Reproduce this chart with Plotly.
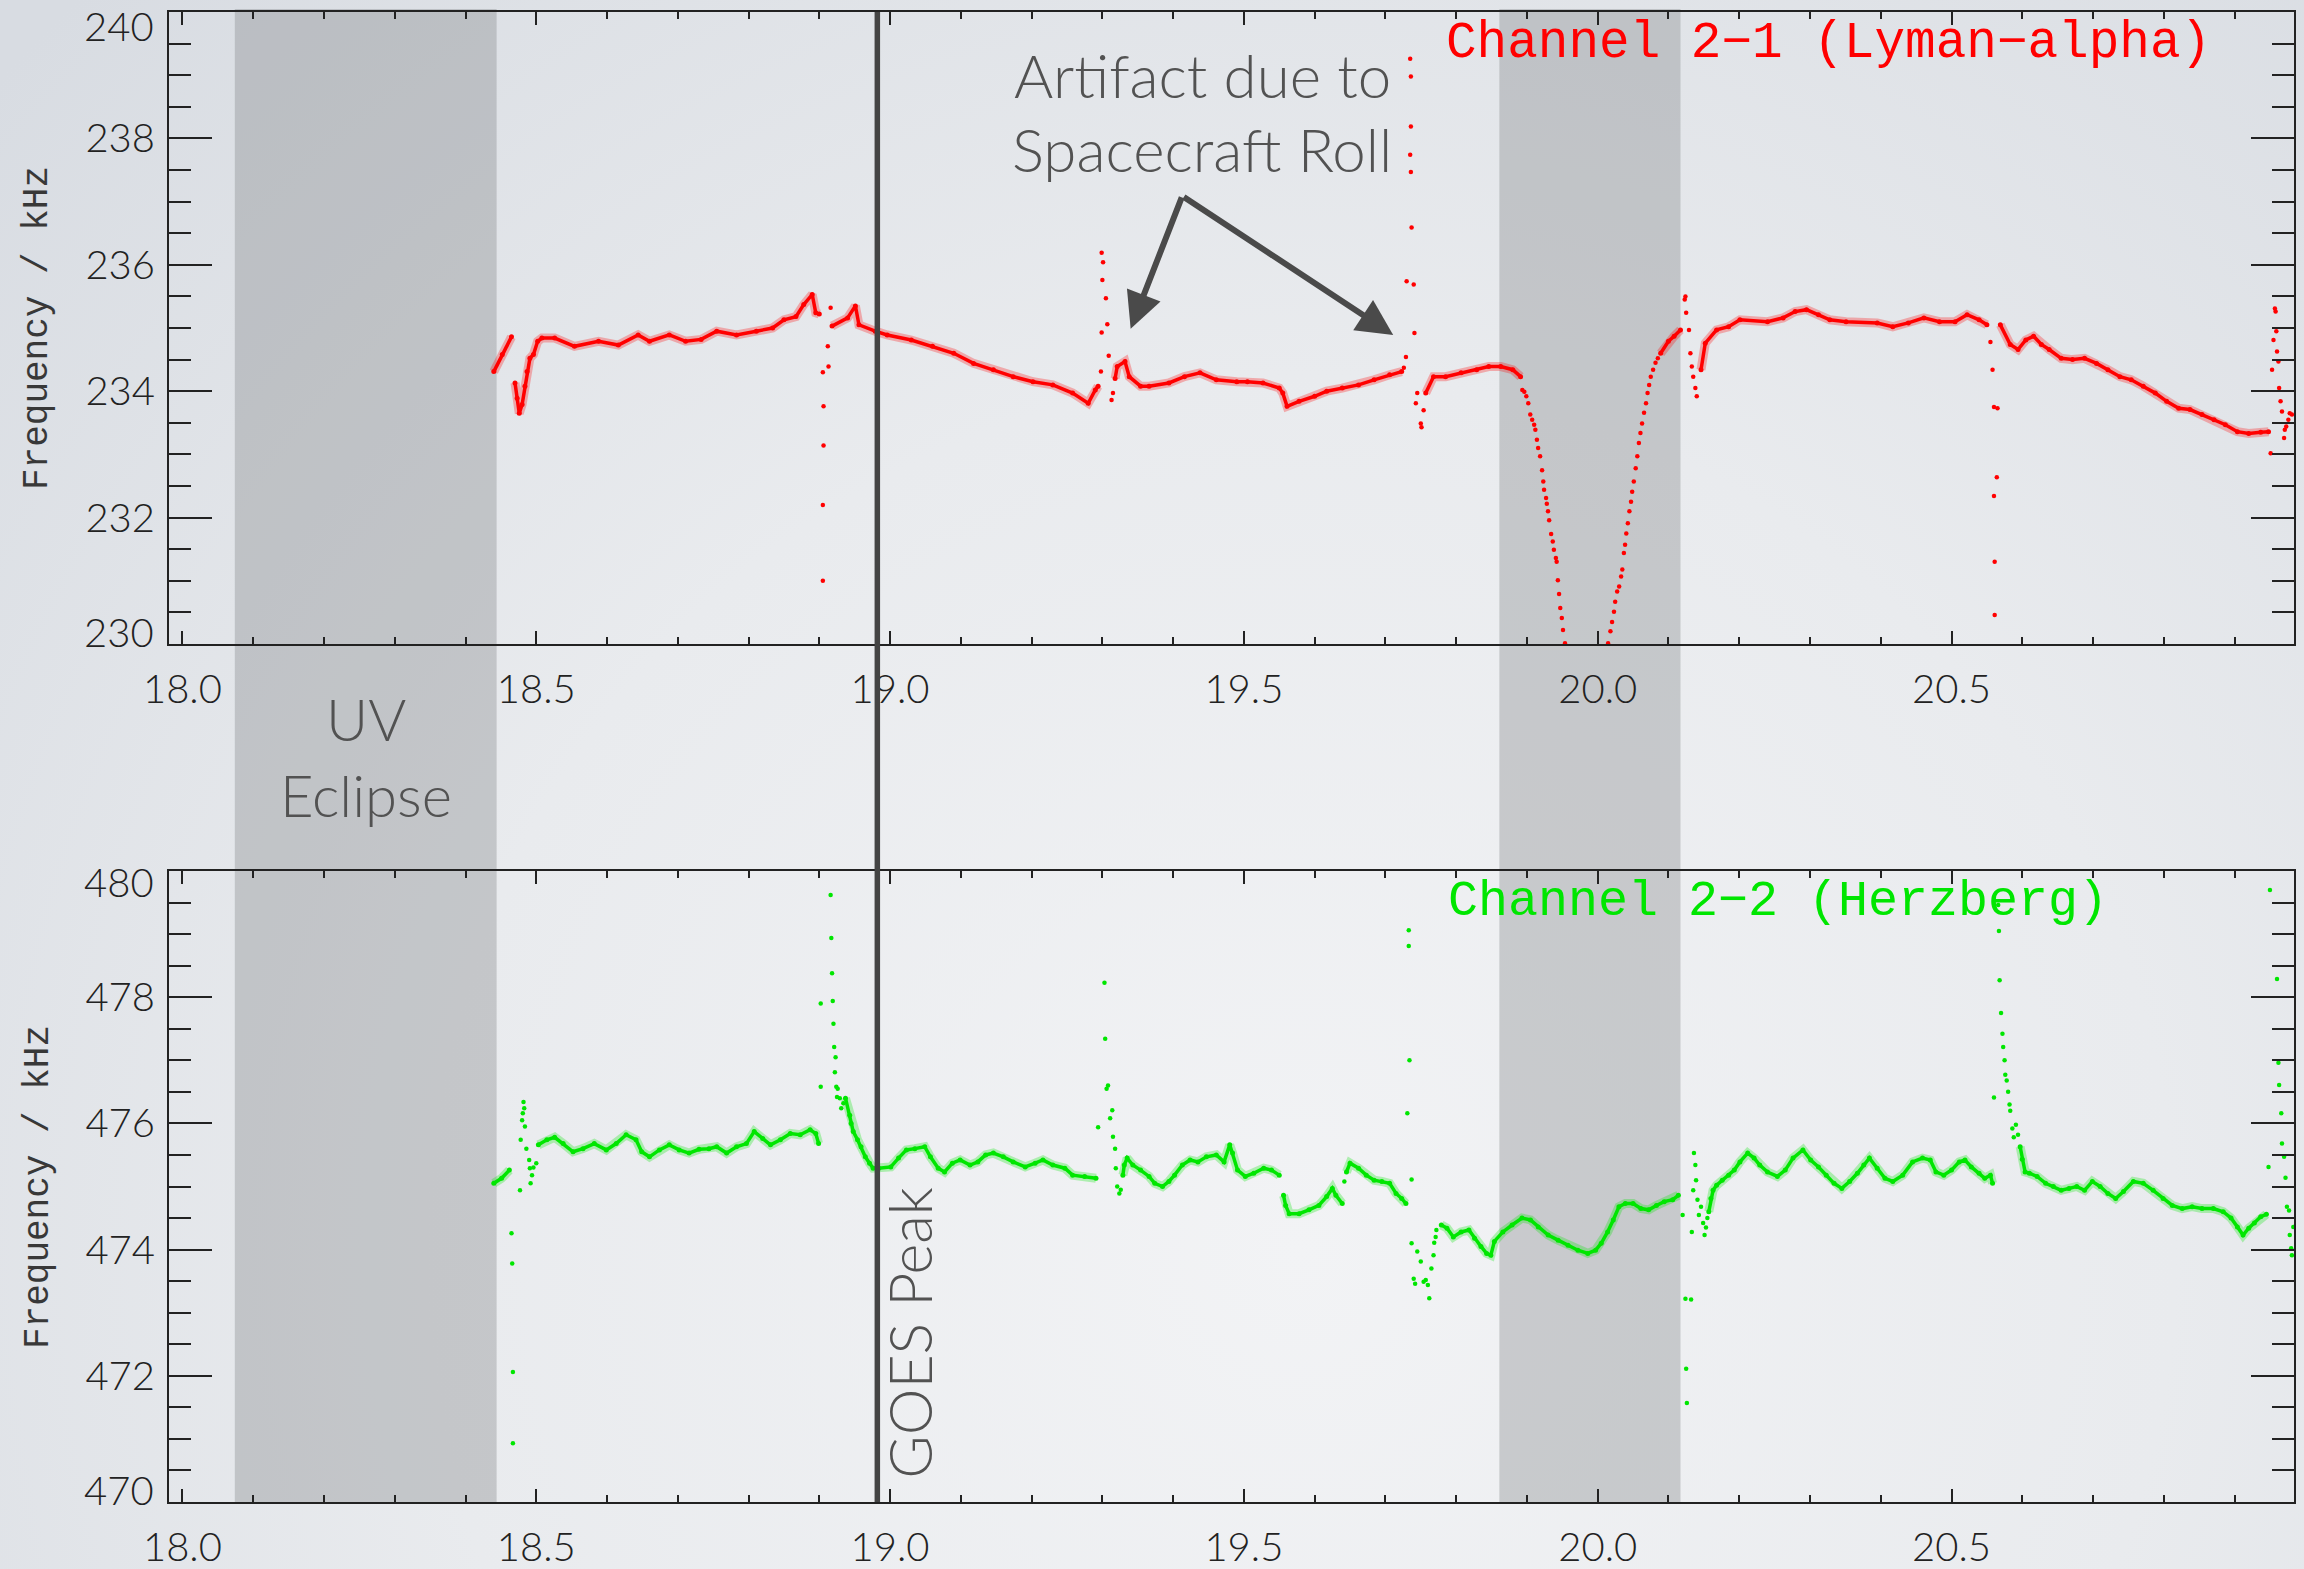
import base64
import plotly.graph_objects as go

# ---------------- axes ----------------
X_RANGE = [17.981, 20.984]          # UT hours
X_TICKS = [18.0, 18.5, 19.0, 19.5, 20.0, 20.5]
LYA_Y_RANGE = [230, 240]
LYA_Y_TICKS = [230, 232, 234, 236, 238, 240]
HZB_Y_RANGE = [470, 480]
HZB_Y_TICKS = [470, 472, 474, 476, 478, 480]

# shaded intervals (UV eclipse and occultation), UT hours
SHADE_START = [18.074, 19.861]
SHADE_END = [18.444, 20.117]
GOES_PEAK_T = 18.982

# ---------------- Channel 2-1 (Lyman-alpha) ----------------
# continuous stretches; (None, None) breaks the trace between stretches
LYA_STEADY = [
    (18.440, 234.31), (18.452, 234.58), (18.465, 234.86),
    (None, None),
    (18.470, 234.13), (18.473, 233.89), (18.476, 233.65), (18.480, 233.79),
    (18.484, 234.08), (18.487, 234.31), (18.491, 234.52), (18.496, 234.58),
    (18.502, 234.79), (18.508, 234.84), (18.526, 234.84), (18.554, 234.71),
    (18.588, 234.79), (18.616, 234.73), (18.644, 234.89), (18.660, 234.79),
    (18.688, 234.89), (18.711, 234.79), (18.733, 234.82), (18.755, 234.95),
    (18.783, 234.89), (18.811, 234.95), (18.834, 235.00), (18.850, 235.13),
    (18.867, 235.18), (18.878, 235.37), (18.890, 235.53), (18.895, 235.24),
    (18.900, 235.22),
    (None, None),
    (18.918, 235.03), (18.940, 235.16), (18.951, 235.35), (18.956, 235.05),
    (18.979, 234.95), (18.996, 234.89), (19.030, 234.81), (19.060, 234.71),
    (19.090, 234.60), (19.118, 234.44), (19.146, 234.34), (19.174, 234.23),
    (19.202, 234.15), (19.230, 234.10), (19.258, 233.97), (19.280, 233.81),
    (19.290, 234.02), (19.294, 234.08),
    (None, None),
    (19.318, 234.20), (19.321, 234.39), (19.332, 234.47), (19.338, 234.23),
    (19.354, 234.08), (19.366, 234.08), (19.394, 234.13), (19.416, 234.23),
    (19.438, 234.29), (19.461, 234.18), (19.490, 234.15), (19.505, 234.15),
    (19.527, 234.13), (19.550, 234.05), (19.555, 233.97), (19.561, 233.76),
    (19.578, 233.84), (19.600, 233.92), (19.617, 234.00), (19.639, 234.05),
    (19.662, 234.10), (19.684, 234.18), (19.706, 234.26), (19.723, 234.31),
    (None, None),
    (19.757, 233.97), (19.768, 234.23), (19.785, 234.23), (19.807, 234.29),
    (19.829, 234.34), (19.846, 234.39), (19.863, 234.39), (19.880, 234.34),
    (19.891, 234.23),
    (None, None),
    (20.089, 234.60), (20.100, 234.79), (20.108, 234.87), (20.117, 234.97),
    (None, None),
    (20.146, 234.34), (20.152, 234.76), (20.168, 234.97), (20.185, 235.02),
    (20.201, 235.13), (20.240, 235.10), (20.262, 235.16), (20.279, 235.26),
    (20.295, 235.29), (20.312, 235.21), (20.328, 235.13), (20.351, 235.10),
    (20.395, 235.08), (20.417, 235.02), (20.439, 235.08), (20.461, 235.16),
    (20.483, 235.10), (20.505, 235.10), (20.522, 235.21), (20.539, 235.13),
    (20.550, 235.05),
    (None, None),
    (20.569, 235.05), (20.583, 234.74), (20.594, 234.66), (20.605, 234.81),
    (20.616, 234.87), (20.627, 234.74), (20.638, 234.66), (20.655, 234.52),
    (20.671, 234.50), (20.688, 234.52), (20.705, 234.44), (20.721, 234.34),
    (20.738, 234.23), (20.754, 234.18), (20.771, 234.08), (20.788, 233.97),
    (20.804, 233.84), (20.821, 233.73), (20.837, 233.71), (20.854, 233.63),
    (20.871, 233.55), (20.887, 233.47), (20.904, 233.36), (20.920, 233.33),
    (20.937, 233.35), (20.948, 233.36),
]

# isolated samples: roll transients and the occultation dip
LYA_SCATTER = [
    (18.905, 234.30), (18.906, 233.76), (18.906, 233.14), (18.905, 232.20),
    (18.905, 231.00), (18.912, 234.71), (18.913, 234.39), (18.916, 235.32),
    (19.299, 236.19), (19.301, 236.04), (19.300, 235.76), (19.305, 235.47),
    (19.307, 235.06), (19.299, 234.93), (19.309, 234.56), (19.298, 234.31),
    (19.313, 233.86), (19.315, 233.97),
    (19.735, 239.26), (19.736, 238.98), (19.736, 238.19), (19.735, 237.74),
    (19.736, 237.47), (19.737, 236.59), (19.730, 235.74), (19.740, 235.69),
    (19.741, 234.92), (19.729, 234.54), (19.726, 234.37), (19.743, 233.81),
    (19.745, 233.97), (19.750, 233.49), (19.754, 233.70), (19.751, 233.43),
    (19.8935, 234.02), (19.8963, 233.99), (19.8991, 233.92), (19.9019, 233.81),
    (19.9047, 233.63), (19.9074, 233.55), (19.9102, 233.47), (19.9119, 233.39),
    (19.9141, 233.23), (19.9158, 233.10), (19.9186, 232.97), (19.9214, 232.75),
    (19.9231, 232.57), (19.9242, 232.44), (19.9270, 232.31), (19.9281, 232.22),
    (19.9298, 232.10), (19.9314, 231.96), (19.9342, 231.74), (19.9365, 231.62),
    (19.9381, 231.49), (19.9409, 231.36), (19.9420, 231.30), (19.9437, 231.01),
    (19.9454, 230.79), (19.9471, 230.57), (19.9493, 230.41), (19.9510, 230.22),
    (19.9538, 230.01),
    (20.0147, 230.01), (20.0180, 230.20), (20.0203, 230.35), (20.0230, 230.51),
    (20.0247, 230.67), (20.0275, 230.83), (20.0303, 230.91), (20.0331, 231.07),
    (20.0348, 231.18), (20.0370, 231.44), (20.0387, 231.57), (20.0404, 231.75),
    (20.0426, 231.91), (20.0448, 232.10), (20.0471, 232.25), (20.0487, 232.41),
    (20.0510, 232.57), (20.0537, 232.78), (20.0560, 232.97), (20.0582, 233.18),
    (20.0604, 233.34), (20.0627, 233.49), (20.0655, 233.66), (20.0683, 233.81),
    (20.0705, 233.97), (20.0727, 234.10), (20.0750, 234.23), (20.0783, 234.34),
    (20.0817, 234.45), (20.0850, 234.52),
    (20.123, 235.45), (20.124, 235.50), (20.125, 235.24), (20.129, 234.97),
    (20.131, 234.60), (20.133, 234.39), (20.135, 234.23), (20.138, 234.05),
    (20.140, 233.92),
    (20.555, 234.78), (20.558, 234.34), (20.565, 233.73), (20.560, 233.75),
    (20.564, 232.64), (20.560, 232.34), (20.561, 231.30), (20.561, 230.46),
    (20.951, 233.02), (20.953, 234.34), (20.955, 234.81), (20.957, 235.31),
    (20.958, 235.26), (20.959, 234.95), (20.960, 234.63), (20.962, 234.47),
    (20.963, 234.05), (20.965, 233.84), (20.967, 233.68), (20.970, 233.26),
    (20.971, 233.39), (20.973, 233.44), (20.976, 233.55), (20.978, 233.65),
    (20.981, 233.63),
]

# ---------------- Channel 2-2 (Herzberg) ----------------
HZB_STEADY = [
    (18.440, 475.05), (18.451, 475.13), (18.462, 475.26),
    (None, None),
    (18.503, 475.66), (18.515, 475.74), (18.526, 475.78), (18.538, 475.68),
    (18.552, 475.55), (18.566, 475.60), (18.582, 475.68), (18.599, 475.58),
    (18.613, 475.68), (18.627, 475.82), (18.641, 475.74), (18.649, 475.55),
    (18.660, 475.47), (18.674, 475.58), (18.688, 475.66), (18.702, 475.58),
    (18.716, 475.53), (18.730, 475.59), (18.744, 475.60), (18.755, 475.63),
    (18.769, 475.53), (18.783, 475.63), (18.797, 475.68), (18.808, 475.87),
    (18.820, 475.76), (18.831, 475.66), (18.845, 475.74), (18.859, 475.84),
    (18.873, 475.82), (18.887, 475.90), (18.895, 475.84), (18.899, 475.68),
    (None, None),
    (18.937, 476.40), (18.943, 476.13), (18.945, 476.00), (18.948, 475.87),
    (18.954, 475.74), (18.959, 475.63), (18.965, 475.47), (18.971, 475.37),
    (18.976, 475.29), (18.984, 475.29), (19.001, 475.31), (19.012, 475.45),
    (19.023, 475.58), (19.035, 475.60), (19.049, 475.63), (19.057, 475.47),
    (19.068, 475.29), (19.077, 475.23), (19.088, 475.37), (19.099, 475.42),
    (19.113, 475.34), (19.124, 475.39), (19.135, 475.50), (19.146, 475.53),
    (19.160, 475.47), (19.174, 475.39), (19.191, 475.31), (19.205, 475.37),
    (19.216, 475.42), (19.230, 475.34), (19.247, 475.29), (19.258, 475.18),
    (19.275, 475.16), (19.291, 475.13),
    (None, None),
    (19.329, 475.18), (19.331, 475.34), (19.335, 475.45), (19.343, 475.34),
    (19.354, 475.26), (19.366, 475.16), (19.374, 475.05), (19.385, 475.00),
    (19.394, 475.08), (19.402, 475.18), (19.413, 475.34), (19.424, 475.42),
    (19.435, 475.39), (19.447, 475.47), (19.461, 475.50), (19.472, 475.39),
    (19.480, 475.66), (19.484, 475.53), (19.491, 475.26), (19.502, 475.16),
    (19.514, 475.21), (19.528, 475.29), (19.539, 475.26), (19.550, 475.18),
    (None, None),
    (19.556, 474.86), (19.559, 474.70), (19.564, 474.57), (19.578, 474.57),
    (19.592, 474.63), (19.606, 474.70), (19.617, 474.84), (19.625, 474.97),
    (19.630, 474.86), (19.639, 474.73),
    (None, None),
    (19.645, 475.23), (19.650, 475.37), (19.662, 475.29), (19.673, 475.18),
    (19.684, 475.10), (19.695, 475.08), (19.706, 475.05), (19.715, 474.89),
    (19.723, 474.81), (19.729, 474.73),
    (None, None),
    (19.779, 474.39), (19.787, 474.34), (19.796, 474.20), (19.807, 474.28),
    (19.818, 474.31), (19.826, 474.18), (19.835, 474.05), (19.843, 473.94),
    (19.849, 473.91), (19.854, 474.13), (19.866, 474.28), (19.879, 474.39),
    (19.893, 474.50), (19.905, 474.47), (19.916, 474.36), (19.930, 474.23),
    (19.944, 474.15), (19.958, 474.07), (19.972, 473.99), (19.986, 473.94),
    (19.997, 473.99), (20.005, 474.10), (20.014, 474.28), (20.022, 474.47),
    (20.030, 474.68), (20.039, 474.73), (20.050, 474.73), (20.061, 474.65),
    (20.072, 474.63), (20.083, 474.70), (20.094, 474.76), (20.106, 474.79),
    (20.114, 474.86),
    (None, None),
    (20.157, 474.60), (20.160, 474.81), (20.163, 474.94), (20.168, 475.02),
    (20.176, 475.10), (20.185, 475.18), (20.193, 475.26), (20.201, 475.39),
    (20.212, 475.53), (20.221, 475.45), (20.229, 475.34), (20.240, 475.23),
    (20.254, 475.16), (20.265, 475.26), (20.276, 475.45), (20.290, 475.58),
    (20.301, 475.42), (20.312, 475.31), (20.323, 475.18), (20.334, 475.05),
    (20.345, 474.97), (20.356, 475.08), (20.367, 475.21), (20.376, 475.34),
    (20.384, 475.45), (20.395, 475.29), (20.406, 475.13), (20.417, 475.08),
    (20.431, 475.18), (20.445, 475.39), (20.459, 475.45), (20.470, 475.42),
    (20.478, 475.23), (20.489, 475.18), (20.500, 475.26), (20.511, 475.39),
    (20.519, 475.42), (20.528, 475.31), (20.539, 475.21), (20.547, 475.13),
    (20.555, 475.18), (20.558, 475.05),
    (None, None),
    (20.597, 475.63), (20.600, 475.43), (20.604, 475.23), (20.610, 475.21),
    (20.621, 475.16), (20.633, 475.05), (20.644, 475.00), (20.655, 474.94),
    (20.666, 474.97), (20.677, 475.00), (20.688, 474.94), (20.699, 475.08),
    (20.710, 475.00), (20.721, 474.89), (20.732, 474.81), (20.743, 474.92),
    (20.757, 475.08), (20.771, 475.05), (20.785, 474.94), (20.799, 474.81),
    (20.812, 474.70), (20.826, 474.65), (20.840, 474.68), (20.854, 474.65),
    (20.870, 474.65), (20.884, 474.60), (20.895, 474.50), (20.904, 474.36),
    (20.912, 474.23), (20.920, 474.34), (20.928, 474.42), (20.937, 474.52),
    (20.945, 474.56),
]

HZB_SCATTER = [
    (18.465, 474.26), (18.466, 473.78), (18.467, 472.06), (18.467, 470.93),
    (18.477, 474.94), (18.478, 475.74), (18.480, 476.05), (18.481, 476.16),
    (18.482, 476.34), (18.483, 476.24), (18.484, 475.95), (18.486, 475.60),
    (18.490, 475.42), (18.491, 475.29), (18.492, 475.05), (18.494, 475.18),
    (18.496, 475.30), (18.500, 475.37),
    (18.902, 477.90), (18.902, 476.58), (18.916, 479.62), (18.917, 478.94),
    (18.918, 478.38), (18.919, 477.94), (18.920, 477.58), (18.921, 477.21),
    (18.922, 476.81), (18.923, 477.05), (18.924, 476.58), (18.925, 476.42),
    (18.926, 476.55), (18.929, 476.40), (18.931, 476.24), (18.934, 476.32),
    (19.294, 475.94), (19.303, 478.23), (19.304, 477.34), (19.306, 476.55),
    (19.308, 476.60), (19.311, 476.08), (19.314, 476.21), (19.315, 475.79),
    (19.318, 475.60), (19.319, 475.29), (19.321, 475.00), (19.324, 474.89),
    (19.326, 474.95),
    (19.642, 475.08),
    (19.731, 476.16), (19.733, 479.06), (19.733, 478.81), (19.734, 477.00),
    (19.737, 475.11), (19.737, 474.10), (19.740, 473.54), (19.742, 473.46),
    (19.745, 473.97), (19.750, 473.81), (19.754, 473.49), (19.757, 473.52),
    (19.760, 473.44), (19.762, 473.23), (19.765, 473.70), (19.768, 473.91),
    (19.769, 474.11), (19.771, 474.20), (19.772, 474.31),
    (20.120, 474.55), (20.124, 473.22), (20.125, 472.11), (20.126, 471.57),
    (20.132, 473.21), (20.133, 474.28), (20.135, 474.94), (20.136, 475.53),
    (20.138, 475.34), (20.139, 475.10), (20.141, 474.79), (20.143, 474.55),
    (20.146, 474.68), (20.149, 474.42), (20.151, 474.23), (20.153, 474.35),
    (20.155, 474.50),
    (20.560, 476.41), (20.566, 479.46), (20.567, 479.05), (20.568, 478.27),
    (20.570, 477.75), (20.572, 477.42), (20.573, 477.21), (20.575, 477.00),
    (20.576, 476.77), (20.578, 476.68), (20.580, 476.50), (20.582, 476.30),
    (20.583, 476.20), (20.586, 475.92), (20.588, 475.78), (20.591, 475.98),
    (20.594, 475.82),
    (20.948, 475.31), (20.950, 479.70), (20.960, 478.29), (20.962, 476.96),
    (20.963, 476.61), (20.966, 476.16), (20.967, 475.68), (20.970, 475.47),
    (20.972, 475.14), (20.974, 474.68), (20.977, 474.62), (20.978, 474.23),
    (20.980, 474.02), (20.981, 473.91), (20.983, 474.36),
]

# roll-artifact callout: shared arrow tail and the two arrow tips (top panel)
ARROW_TAIL = (19.413, 237.09)
ARROW_TIPS = [(19.340, 234.99), (19.711, 234.89)]

LYA_COLOR = "#ff0000"
LYA_HALO = "rgba(255,0,0,0.28)"
HZB_COLOR = "#00e600"
HZB_HALO = "rgba(0,230,0,0.28)"
INK = "#222222"
NOTE = "#525252"
TICK_FONT = dict(family="Lato", size=40, color=INK, weight=300)
MONO_FONT = "Liberation Mono"

W, H = 2304, 1569
M_L, M_R, M_T, M_B = 169, 10, 12, 67
PLOT_W = W - M_L - M_R
PLOT_H = H - M_T - M_B


def unzip(pairs):
    return [p[0] for p in pairs], [p[1] for p in pairs]


def note_font(size):
    return dict(family="Lato", size=size, color=NOTE, weight=300)


fig = go.Figure()

for steady, scatter, color, halo, xa, ya in [
    (LYA_STEADY, LYA_SCATTER, LYA_COLOR, LYA_HALO, "x", "y"),
    (HZB_STEADY, HZB_SCATTER, HZB_COLOR, HZB_HALO, "x2", "y2"),
]:
    t, f = unzip(steady)
    # sample scatter shows as a soft band around the running level
    fig.add_trace(go.Scatter(
        x=t, y=f, xaxis=xa, yaxis=ya, mode="lines",
        line=dict(color=halo, width=9), connectgaps=False, hoverinfo="skip"))
    fig.add_trace(go.Scatter(
        x=t, y=f, xaxis=xa, yaxis=ya, mode="lines+markers",
        line=dict(color=color, width=3.5), marker=dict(color=color, size=5),
        connectgaps=False, hoverinfo="skip"))
    t, f = unzip(scatter)
    fig.add_trace(go.Scatter(
        x=t, y=f, xaxis=xa, yaxis=ya, mode="markers",
        marker=dict(color=color, size=4.5), hoverinfo="skip"))

axis_common = dict(
    showline=True, linecolor=INK, linewidth=2, mirror="ticks",
    ticks="inside", tickcolor=INK, tickwidth=2, automargin=False,
    showgrid=False, zeroline=False, tickfont=TICK_FONT,
)
x_common = dict(axis_common, range=X_RANGE, tickmode="array", tickvals=X_TICKS,
                tickformat=".1f", ticklen=13, ticklabelstandoff=9,
                minor=dict(tickmode="linear", tick0=18.0, dtick=0.1, ticklen=7,
                           tickwidth=2, tickcolor=INK, ticks="inside"))

Y_LABEL_STANDOFF = 4


def y_axis(rng, ticks, domain):
    # the end labels are drawn separately, nudged inside the frame
    text = ["" if v in (rng[0], rng[1]) else str(v) for v in ticks]
    return dict(axis_common, range=rng, domain=domain, tickmode="array",
                tickvals=ticks, ticktext=text, ticklen=43,
                ticklabelstandoff=Y_LABEL_STANDOFF,
                minor=dict(tickmode="linear", tick0=rng[0], dtick=0.5, ticklen=22,
                           tickwidth=2, tickcolor=INK, ticks="inside"))


TOP_DOM = [1 - (644 - M_T) / PLOT_H, 1.0]
BOT_DOM = [0.0, (H - M_B - 871) / PLOT_H]

fig.update_layout(
    xaxis=dict(x_common, anchor="y"),
    yaxis=y_axis(LYA_Y_RANGE, LYA_Y_TICKS, TOP_DOM),
    xaxis2=dict(x_common, anchor="y2"),
    yaxis2=y_axis(HZB_Y_RANGE, HZB_Y_TICKS, BOT_DOM),
)

# soft slide-style backdrop behind everything
svg = (
    f'<svg xmlns="http://www.w3.org/2000/svg" width="{W}" height="{H}">'
    '<defs><radialGradient id="bg" gradientUnits="userSpaceOnUse" '
    'cx="1300" cy="1250" r="1750">'
    '<stop offset="0" stop-color="#f2f3f5"/>'
    '<stop offset="0.5" stop-color="#e9ebee"/>'
    '<stop offset="1" stop-color="#d8dce2"/>'
    '</radialGradient></defs>'
    f'<rect width="{W}" height="{H}" fill="url(#bg)"/></svg>'
)
bg_src = "data:image/svg+xml;base64," + base64.b64encode(svg.encode()).decode()

shapes = []
for s, e in zip(SHADE_START, SHADE_END):
    shapes.append(dict(type="rect", xref="x", yref="paper", x0=s, x1=e, y0=0, y1=1.002,
                       fillcolor="rgba(120,124,128,0.33)", line=dict(width=0),
                       layer="below"))
shapes.append(dict(type="line", xref="x", yref="paper", x0=GOES_PEAK_T, x1=GOES_PEAK_T,
                   y0=0, y1=1, line=dict(color="#444444", width=5.5), layer="above"))


def py(px):
    """paper y for a pixel row measured from the top of the figure"""
    return (H - M_B - px) / PLOT_H


def pxx(px):
    return (px - M_L) / PLOT_W


annotations = [
    dict(text="Channel 2−1 (Lyman−alpha)", xref="paper", yref="paper",
         x=pxx(1444), y=py(44), xanchor="left", yanchor="middle", showarrow=False,
         font=dict(family=MONO_FONT, size=51, color=LYA_COLOR)),
    dict(text="Channel 2−2 (Herzberg)", xref="paper", yref="paper",
         x=pxx(1446), y=py(901), xanchor="left", yanchor="middle", showarrow=False,
         font=dict(family=MONO_FONT, size=50, color=HZB_COLOR)),
    dict(text="Frequency / kHz", xref="paper", yref="paper", x=pxx(38), y=py(328),
         xanchor="center", yanchor="middle", textangle=-90, showarrow=False,
         font=dict(family=MONO_FONT, size=36, color="#383838")),
    dict(text="Frequency / kHz", xref="paper", yref="paper", x=pxx(38), y=py(1187),
         xanchor="center", yanchor="middle", textangle=-90, showarrow=False,
         font=dict(family=MONO_FONT, size=36, color="#383838")),
    dict(text="Artifact due to", xref="x", yref="paper", x=19.4415, y=py(75),
         xanchor="center", yanchor="middle", showarrow=False, font=note_font(60)),
    dict(text="Spacecraft Roll", xref="x", yref="paper", x=19.4415, y=py(149),
         xanchor="center", yanchor="middle", showarrow=False, font=note_font(60)),
    dict(text="UV", xref="x", yref="paper", x=(SHADE_START[0] + SHADE_END[0]) / 2,
         y=py(718), xanchor="center", yanchor="middle", showarrow=False,
         font=note_font(58)),
    dict(text="Eclipse", xref="x", yref="paper", x=(SHADE_START[0] + SHADE_END[0]) / 2,
         y=py(794), xanchor="center", yanchor="middle", showarrow=False,
         font=note_font(58)),
    dict(text="GOES Peak", xref="x", yref="paper", x=19.0263, y=py(1333),
         xanchor="center", yanchor="middle", textangle=-90, showarrow=False,
         font=note_font(59)),
]

# end tick labels of each frequency axis, shifted inward like the other labels;
# the top one hangs from the figure's upper edge
for yref, rng in [("y", LYA_Y_RANGE), ("y2", HZB_Y_RANGE)]:
    for v, shift, anchor in [(rng[1], -11, "middle"), (rng[0], 12, "middle")]:
        if yref == "y" and v == rng[1]:
            shift, anchor = M_T - 1, "top"
        annotations.append(dict(
            text=str(v), xref="paper", yref=yref, x=0, y=v, xanchor="right",
            yanchor=anchor, xshift=-14, yshift=shift, showarrow=False,
            borderpad=0, font=TICK_FONT))

for tx, ty in ARROW_TIPS:
    annotations.append(dict(
        x=tx, y=ty, xref="x", yref="y", ax=ARROW_TAIL[0], ay=ARROW_TAIL[1],
        axref="x", ayref="y", text="", showarrow=True, arrowhead=2,
        arrowsize=1.2, arrowwidth=6, arrowcolor="#4a4a4a"))

fig.update_layout(
    width=W, height=H,
    margin=dict(l=M_L, r=M_R, t=M_T, b=M_B, pad=0, autoexpand=False),
    paper_bgcolor="#e4e7eb", plot_bgcolor="rgba(0,0,0,0)",
    showlegend=False,
    shapes=shapes, annotations=annotations,
    images=[dict(source=bg_src, xref="paper", yref="paper",
                 x=-M_L / PLOT_W, y=1 + M_T / PLOT_H,
                 sizex=W / PLOT_W, sizey=H / PLOT_H,
                 xanchor="left", yanchor="top", sizing="stretch", layer="below")],
)

fig.write_html("out.html")
